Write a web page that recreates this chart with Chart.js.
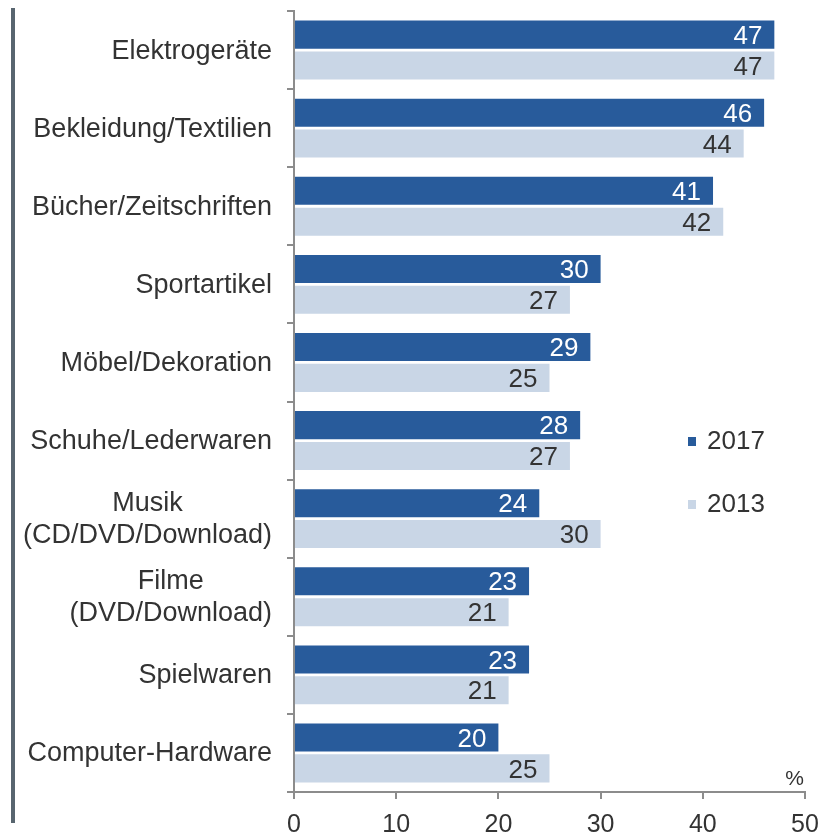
<!DOCTYPE html>
<html>
<head>
<meta charset="utf-8">
<script src="https://cdn.jsdelivr.net/npm/chart.js@4/dist/chart.umd.min.js"></script>
<style>
  html, body { margin: 0; padding: 0; background: #fff; }
  #wrap { width: 824px; height: 835px; position: relative; }
</style>
</head>
<body>
<div id="wrap"><canvas id="chart"></canvas></div>
<script>
// Daten
const kategorien = [
    ['Elektrogeräte'],
    ['Bekleidung/Textilien'],
    ['Bücher/Zeitschriften'],
    ['Sportartikel'],
    ['Möbel/Dekoration'],
    ['Schuhe/Lederwaren'],
    ['Musik', '(CD/DVD/Download)'],
    ['Filme', '(DVD/Download)'],
    ['Spielwaren'],
    ['Computer-Hardware']
];
const werte2017 = [47, 46, 41, 30, 29, 28, 24, 23, 23, 20];
const werte2013 = [47, 44, 42, 27, 25, 27, 30, 21, 21, 25];
const xTicks = [0, 10, 20, 30, 40, 50];

const FONT = '"Liberation Sans", Arial, sans-serif';
const TEXT = '#333333';
const ACHSE = '#8c8c8c';
const farben = ['#285b9b', '#c9d6e6'];
const labelFarben = ['#ffffff', '#333333'];

// Linke Randlinie, Kategorienbeschriftung, Werte, Legende
const zeichnen = {
    id: 'zeichnen',
    afterDraw(chart) {
        const ctx = chart.ctx;
        const area = chart.chartArea;
        const y = chart.scales.y;
        ctx.save();

        // Randlinie links
        ctx.fillStyle = '#58656f';
        ctx.fillRect(11, 8, 4, 815);

        // Kategorien (mehrzeilig zentriert, Block rechtsbündig)
        ctx.font = '27px ' + FONT;
        ctx.fillStyle = TEXT;
        ctx.textBaseline = 'middle';
        ctx.textAlign = 'center';
        kategorien.forEach((zeilen, i) => {
            const breite = Math.max(...zeilen.map(z => ctx.measureText(z).width));
            const cx = area.left - 22 - breite / 2;
            const cy = y.getPixelForValue(i) + 1;
            zeilen.forEach((z, j) => {
                ctx.fillText(z, cx, cy + (j - (zeilen.length - 1) / 2) * 32);
            });
        });

        // Werte in den Balken
        ctx.font = '26px ' + FONT;
        ctx.textAlign = 'right';
        chart.data.datasets.forEach((ds, d) => {
            const meta = chart.getDatasetMeta(d);
            ctx.fillStyle = labelFarben[d];
            meta.data.forEach((el, i) => {
                ctx.fillText(String(ds.data[i]), el.x - 12, el.y + 2);
            });
        });

        // Legende
        ctx.font = '26px ' + FONT;
        ctx.textAlign = 'left';
        chart.data.datasets.forEach((ds, d) => {
            const ly = 441 + d * 63;
            ctx.fillStyle = ds.backgroundColor;
            ctx.fillRect(688, ly - 4, 8, 9);
            ctx.fillStyle = TEXT;
            ctx.fillText(ds.label, 707, ly + 1);
        });

        // Einheit
        ctx.font = '21px ' + FONT;
        ctx.textAlign = 'right';
        ctx.textBaseline = 'alphabetic';
        ctx.fillText('%', area.right - 1, area.bottom - 7);

        ctx.restore();
    }
};

new Chart(document.getElementById('chart'), {
    type: 'bar',
    data: {
        labels: kategorien.map(k => k.join(' ')),
        datasets: [
            { label: '2017', data: werte2017, backgroundColor: farben[0] },
            { label: '2013', data: werte2013, backgroundColor: farben[1] }
        ]
    },
    options: {
        indexAxis: 'y',
        responsive: true,
        maintainAspectRatio: false,
        animation: false,
        barPercentage: 0.91,
        categoryPercentage: 0.79,
        layout: { padding: { top: 11, right: 19, bottom: 0, left: 0 } },
        plugins: {
            legend: { display: false },
            tooltip: { enabled: false }
        },
        scales: {
            y: {
                offset: true,
                grid: { offset: true, drawOnChartArea: false, tickLength: 7, color: ACHSE, lineWidth: 2 },
                border: { color: ACHSE, width: 2 },
                ticks: { display: false },
                afterFit: (s) => { s.width = 294; }
            },
            x: {
                min: 0,
                max: 50,
                afterBuildTicks: (s) => { s.ticks = xTicks.map(v => ({ value: v })); },
                grid: { drawOnChartArea: false, tickLength: 7, color: ACHSE, lineWidth: 2 },
                border: { color: ACHSE, width: 2 },
                ticks: { color: TEXT, font: { size: 25, family: FONT }, padding: 11, maxRotation: 0 },
                afterFit: (s) => { s.height = 43; s.paddingLeft = 0; s.paddingRight = 0; }
            }
        }
    },
    plugins: [zeichnen]
});
</script>
</body>
</html>
